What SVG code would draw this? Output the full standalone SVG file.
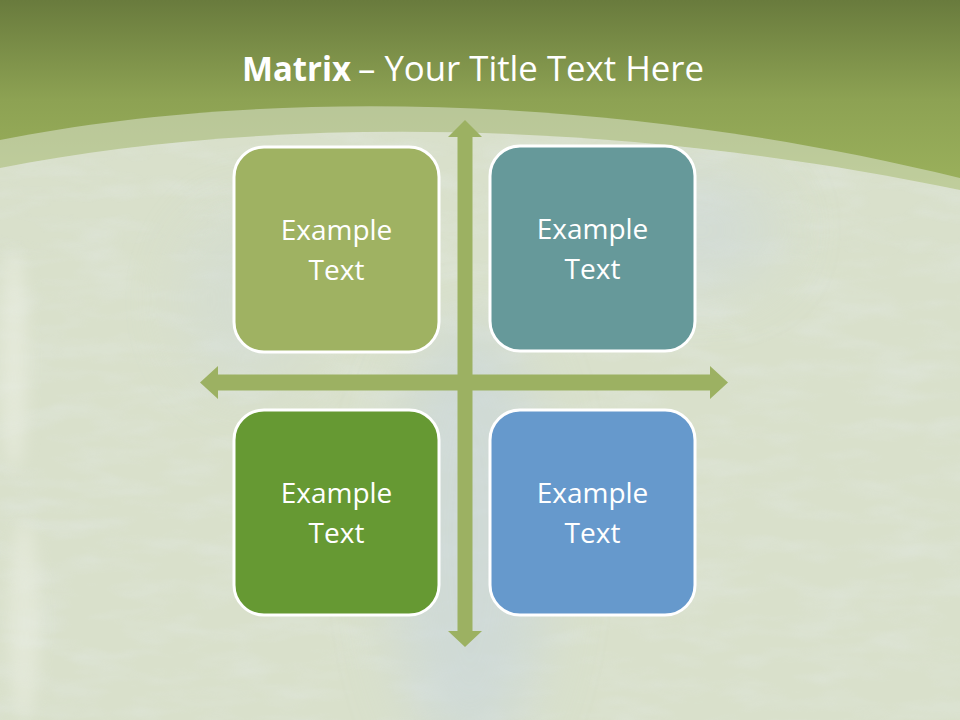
<svg xmlns="http://www.w3.org/2000/svg" width="960" height="720" viewBox="0 0 960 720">
  <defs>
    <linearGradient id="gTop" gradientUnits="userSpaceOnUse" x1="0" y1="0" x2="0" y2="200">
      <stop offset="0" stop-color="#697b3d"/>
      <stop offset="0.5" stop-color="#8da253"/>
      <stop offset="1" stop-color="#9db35d"/>
    </linearGradient>
    <filter id="blur" x="-50%" y="-50%" width="200%" height="200%">
      <feGaussianBlur stdDeviation="30"/>
    </filter>
    <filter id="blurS" x="-50%" y="-50%" width="200%" height="200%">
      <feGaussianBlur stdDeviation="8"/>
    </filter>
    <filter id="noise" x="0" y="0" width="100%" height="100%">
      <feTurbulence type="fractalNoise" baseFrequency="0.015 0.05" numOctaves="3" seed="4"/>
      <feColorMatrix type="matrix" values="0 0 0 0 0.80  0 0 0 0 0.85  0 0 0 0 0.88  0 0 0 1.2 -0.5"/>
    </filter>
    <clipPath id="bgClip">
      <path d="M0,168 C250,118 600,115 960,190 L960,720 L0,720 Z"/>
    </clipPath>
  </defs>
  <style>
    .box { stroke: #ffffff; stroke-width: 3; }
    .lbl { font-family: "Open Sans", "Liberation Sans", sans-serif; font-size: 28px; fill: #ffffff; text-anchor: middle; }
    .title { font-family: "Open Sans", "Liberation Sans", sans-serif; font-size: 34px; fill: #ffffff; }
    .arrow { fill: #9cb162; }
  </style>

  <!-- background -->
  <g id="background">
    <rect x="0" y="0" width="960" height="720" fill="url(#gTop)"/>
    <path d="M0,140 C250,90 600,90 960,178 L960,720 L0,720 Z" fill="#e4eadb" opacity="0.5"/>
    <g clip-path="url(#bgClip)">
      <rect x="0" y="0" width="960" height="720" fill="#d9e0cb"/>
      <rect x="0" y="0" width="960" height="720" filter="url(#noise)" opacity="0.45"/>
      <ellipse cx="470" cy="540" rx="80" ry="220" fill="#c9d6dd" opacity="0.6" filter="url(#blur)"/>
      <ellipse cx="700" cy="230" rx="80" ry="60" fill="#cdd8dd" opacity="0.5" filter="url(#blur)"/>
      <ellipse cx="250" cy="300" rx="70" ry="90" fill="#cfd9d8" opacity="0.4" filter="url(#blur)"/>
      <ellipse cx="14" cy="360" rx="14" ry="110" fill="#eef1e6" opacity="0.5" filter="url(#blurS)"/>
      <ellipse cx="24" cy="620" rx="16" ry="100" fill="#eef1e6" opacity="0.45" filter="url(#blurS)"/>
    </g>
  </g>

  <!-- title -->
  <g id="title">
    <text class="title" x="242" y="81" font-weight="bold" textLength="109" lengthAdjust="spacingAndGlyphs">Matrix</text>
    <text class="title" x="358" y="81" textLength="346" lengthAdjust="spacingAndGlyphs">– Your Title Text Here</text>
  </g>

  <!-- connectors -->
  <g id="connectors">
    <polygon class="arrow" points="465,120 482,137 472.5,137 472.5,631 482,631 465,647 448,631 457.5,631 457.5,137 448,137"/>
    <polygon class="arrow" points="200,382.5 218,366 218,374.5 710,374.5 710,366 728,382.5 710,399 710,390.5 218,390.5 218,399"/>
  </g>

  <!-- nodes -->
  <g id="node-tl">
    <rect class="box" x="234" y="147" width="205" height="205" rx="30" fill="#9fb262"/>
    <text class="lbl" x="336.5" y="240">Example</text>
    <text class="lbl" x="336.5" y="280">Text</text>
  </g>
  <g id="node-tr">
    <rect class="box" x="490" y="146" width="205" height="205" rx="30" fill="#66999a"/>
    <text class="lbl" x="592.5" y="239">Example</text>
    <text class="lbl" x="592.5" y="279">Text</text>
  </g>
  <g id="node-bl">
    <rect class="box" x="234" y="410" width="205" height="205" rx="30" fill="#669933"/>
    <text class="lbl" x="336.5" y="503">Example</text>
    <text class="lbl" x="336.5" y="543">Text</text>
  </g>
  <g id="node-br">
    <rect class="box" x="490" y="410" width="205" height="205" rx="30" fill="#6699cc"/>
    <text class="lbl" x="592.5" y="503">Example</text>
    <text class="lbl" x="592.5" y="543">Text</text>
  </g>
</svg>
